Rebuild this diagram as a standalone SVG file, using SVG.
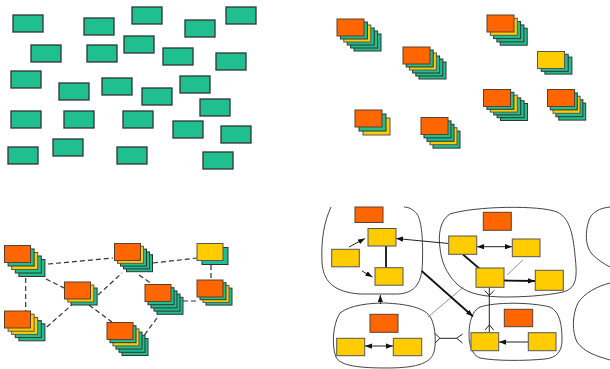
<svg xmlns="http://www.w3.org/2000/svg" width="610" height="369" viewBox="0 0 610 369">
<style>
.bg{fill:#fff}
.p1 rect{fill:#1fbf8f;stroke:#333;stroke-width:1.3}
.t{fill:#1fbf8f;stroke:#333;stroke-width:1}
.y{fill:#ffcc00;stroke:#555;stroke-width:1}
.o{fill:#ff6600;stroke:#5a4030;stroke-width:1}
.d{fill:none;stroke:#333;stroke-width:1.2;stroke-dasharray:5 3}
.blob{fill:none;stroke:#444;stroke-width:1}
.ln{fill:none;stroke:#222;stroke-width:1}
.thk{fill:none;stroke:#111;stroke-width:1.8}
.gry{fill:none;stroke:#777;stroke-width:0.8}
</style>
<defs>
<marker id="ah" viewBox="0 0 8 6" refX="8" refY="3" markerWidth="7" markerHeight="5.5" markerUnits="userSpaceOnUse" orient="auto-start-reverse"><path d="M0,0 L8,3 L0,6 Z" fill="#111"/></marker>
</defs>
<rect class="bg" width="610" height="369"/>

<!-- Panel 1: scattered teal nodes -->
<g class="p1">
<g id="n1"><rect x="13" y="15" width="30" height="17"/></g>
<g id="n2"><rect x="84" y="18" width="30" height="17"/></g>
<g id="n3"><rect x="132" y="7" width="30" height="17"/></g>
<g id="n4"><rect x="185" y="20" width="30" height="17"/></g>
<g id="n5"><rect x="226" y="7" width="30" height="17"/></g>
<g id="n6"><rect x="31" y="45" width="30" height="17"/></g>
<g id="n7"><rect x="87" y="45" width="30" height="17"/></g>
<g id="n8"><rect x="124" y="36" width="30" height="17"/></g>
<g id="n9"><rect x="163" y="48" width="30" height="17"/></g>
<g id="n10"><rect x="216" y="53" width="30" height="17"/></g>
<g id="n11"><rect x="11" y="71" width="30" height="17"/></g>
<g id="n12"><rect x="59" y="83" width="30" height="17"/></g>
<g id="n13"><rect x="102" y="78" width="30" height="17"/></g>
<g id="n14"><rect x="142" y="88" width="30" height="17"/></g>
<g id="n15"><rect x="180" y="76" width="30" height="17"/></g>
<g id="n16"><rect x="200" y="99" width="30" height="17"/></g>
<g id="n17"><rect x="11" y="111" width="30" height="17"/></g>
<g id="n18"><rect x="64" y="111" width="30" height="17"/></g>
<g id="n19"><rect x="123" y="111" width="30" height="17"/></g>
<g id="n20"><rect x="173" y="121" width="30" height="17"/></g>
<g id="n21"><rect x="221" y="126" width="30" height="17"/></g>
<g id="n22"><rect x="8" y="147" width="30" height="17"/></g>
<g id="n23"><rect x="53" y="139" width="30" height="17"/></g>
<g id="n24"><rect x="117" y="147" width="30" height="17"/></g>
<g id="n25"><rect x="203" y="152" width="30" height="17"/></g>
</g>

<!-- Panel 2: stacks -->
<g id="stackA">
<rect class="t" x="354" y="34" width="27" height="17"/><rect class="t" x="350.6" y="31" width="27" height="17"/><rect class="t" x="347.2" y="28" width="27" height="17"/><rect class="y" x="343.8" y="25" width="27" height="17"/><rect class="t" x="340.4" y="22" width="27" height="17"/><rect class="o" x="337" y="19" width="27" height="17"/>
</g>
<g id="stackB">
<rect class="t" x="419" y="62" width="27" height="17"/><rect class="t" x="415.8" y="59" width="27" height="17"/><rect class="t" x="412.6" y="56" width="27" height="17"/><rect class="y" x="409.4" y="53" width="27" height="17"/><rect class="t" x="406.2" y="50" width="27" height="17"/><rect class="o" x="403" y="47" width="27" height="17"/>
</g>
<g id="stackC">
<rect class="t" x="500.2" y="28.2" width="27" height="17"/><rect class="t" x="496.9" y="24.9" width="27" height="17"/><rect class="t" x="493.6" y="21.6" width="27" height="17"/><rect class="y" x="490.3" y="18.3" width="27" height="17"/><rect class="o" x="487" y="15" width="27" height="17"/>
</g>
<g id="stackD">
<rect class="t" x="544.9" y="57.1" width="27" height="17"/><rect class="t" x="541.2" y="54.3" width="27" height="17"/><rect class="y" x="537.5" y="51.5" width="27" height="17"/>
</g>
<g id="stackE">
<rect class="t" x="500.5" y="103.5" width="27" height="17"/><rect class="t" x="497.1" y="100.7" width="27" height="17"/><rect class="t" x="493.7" y="97.9" width="27" height="17"/><rect class="y" x="490.3" y="95.1" width="27" height="17"/><rect class="t" x="486.9" y="92.3" width="27" height="17"/><rect class="o" x="483.5" y="89.5" width="27" height="17"/>
</g>
<g id="stackF">
<rect class="t" x="558.7" y="103.1" width="27" height="17"/><rect class="t" x="555.9" y="99.7" width="27" height="17"/><rect class="y" x="553.1" y="96.3" width="27" height="17"/><rect class="t" x="550.3" y="92.9" width="27" height="17"/><rect class="o" x="547.5" y="89.5" width="27" height="17"/>
</g>
<g id="stackG">
<rect class="y" x="363" y="118" width="27" height="17"/><rect class="t" x="359" y="114" width="27" height="17"/><rect class="o" x="355" y="110" width="27" height="17"/>
</g>
<g id="stackH">
<rect class="t" x="433" y="131.1" width="27" height="17"/><rect class="y" x="430" y="127.7" width="27" height="17"/><rect class="t" x="427" y="124.3" width="27" height="17"/><rect class="t" x="424" y="120.9" width="27" height="17"/><rect class="o" x="421" y="117.5" width="27" height="17"/>
</g>

<!-- Panel 3: connectors -->
<g id="p3-connectors">
<line class="d" x1="48" y1="264" x2="113" y2="258"/>
<line class="d" x1="153" y1="263" x2="197" y2="258"/>
<line class="d" x1="25.7" y1="278" x2="25.7" y2="311"/>
<line class="d" x1="46" y1="279" x2="64" y2="288"/>
<line class="d" x1="46.7" y1="327" x2="71.7" y2="305"/>
<line class="d" x1="98" y1="295" x2="122" y2="273"/>
<line class="d" x1="89" y1="305" x2="112" y2="322"/>
<line class="d" x1="139" y1="275" x2="152" y2="284"/>
<line class="d" x1="157" y1="318" x2="143" y2="337"/>
<line class="d" x1="183" y1="301" x2="198" y2="301"/>
<line class="d" x1="211" y1="265" x2="211" y2="280"/>
</g>
<!-- Panel 3: stacks -->
<g id="S1">
<rect class="t" x="18.9" y="259.5" width="26" height="17"/><rect class="t" x="15.3" y="256" width="26" height="17"/><rect class="y" x="11.7" y="252.5" width="26" height="17"/><rect class="t" x="8.1" y="249" width="26" height="17"/><rect class="o" x="4.5" y="245.5" width="26" height="17"/>
</g>
<g id="S2">
<rect class="t" x="18.9" y="323.8" width="26" height="17"/><rect class="t" x="15.3" y="320.6" width="26" height="17"/><rect class="y" x="11.7" y="317.4" width="26" height="17"/><rect class="y" x="8.1" y="314.2" width="26" height="17"/><rect class="o" x="4.5" y="311" width="26" height="17"/>
</g>
<g id="S3">
<rect class="t" x="71.1" y="288" width="26" height="17"/><rect class="y" x="67.8" y="285" width="26" height="17"/><rect class="o" x="64.5" y="282" width="26" height="17"/>
</g>
<g id="S4">
<rect class="t" x="126.5" y="254.7" width="26" height="17"/><rect class="t" x="123.5" y="251.9" width="26" height="17"/><rect class="t" x="120.5" y="249.1" width="26" height="17"/><rect class="y" x="117.5" y="246.3" width="26" height="17"/><rect class="o" x="114.5" y="243.5" width="26" height="17"/>
</g>
<g id="S5">
<rect class="t" x="157" y="297.3" width="26" height="17"/><rect class="t" x="154" y="294.1" width="26" height="17"/><rect class="t" x="151" y="290.9" width="26" height="17"/><rect class="t" x="148" y="287.7" width="26" height="17"/><rect class="o" x="145" y="284.5" width="26" height="17"/>
</g>
<g id="S6">
<rect class="t" x="122" y="338.5" width="26" height="17"/><rect class="t" x="119" y="335.3" width="26" height="17"/><rect class="t" x="116" y="332.1" width="26" height="17"/><rect class="y" x="113" y="328.9" width="26" height="17"/><rect class="t" x="110" y="325.7" width="26" height="17"/><rect class="o" x="107" y="322.5" width="26" height="17"/>
</g>
<g id="S7">
<rect class="t" x="202" y="247.5" width="26" height="17"/><rect class="y" x="197" y="243.5" width="26" height="17"/>
</g>
<g id="S8">
<rect class="t" x="206" y="288.1" width="26" height="17"/><rect class="y" x="203" y="285.4" width="26" height="17"/><rect class="t" x="200" y="282.7" width="26" height="17"/><rect class="o" x="197" y="280" width="26" height="17"/>
</g>

<!-- Panel 4: blobs -->
<g id="blobs">
<path class="blob" d="M331,207 C324,222 321,240 322,262 C323,280 332,292 360,294 L398,294 C416,293 422,282 422.5,262 C423,240 422,222 417,214 C413,209 408,207 404,207"/>
<path class="blob" d="M450,214 C475,206 540,205 557,212 C570,218 573,235 575,255 C577,275 578,288 563,292 C545,296 520,297 505,297 C485,297 468,294 458,285 C446,274 441,260 440,248 C438,235 440,220 450,214 Z"/>
<path class="blob" d="M340,313 C350,305 370,303 385,303 C405,304 425,307 431,318 C436,328 436,345 434,352 C431,362 420,368 387,368 C360,368 340,366 336,357 C332,348 332,325 340,313 Z"/>
<path class="blob" d="M480,307 C495,302 530,302 550,307 C560,312 562,325 562,340 C562,352 556,358 545,359 C525,361 495,361 480,358 C472,355 469,345 469,335 C469,322 472,311 480,307 Z"/>
<path class="blob" d="M610,207 C600,208 592,212 589,220 C585,232 585,246 592,254 C598,260 604,264 610,267"/>
<path class="blob" d="M610,283 C598,286 584,293 578,303 C572,315 572,332 577,342 C584,352 596,356 610,360"/>
</g>

<!-- Panel 4: connectors -->
<g id="p4-connectors">
<line class="ln" x1="349" y1="247" x2="365" y2="238.5" marker-end="url(#ah)"/>
<line class="ln" x1="362" y1="271" x2="372.5" y2="277" marker-end="url(#ah)"/>
<line class="thk" x1="386" y1="245.7" x2="386" y2="267.7"/>
<line class="ln" x1="448.7" y1="243.5" x2="396" y2="238.5" marker-end="url(#ah)"/>
<line class="ln" x1="477" y1="246.7" x2="512" y2="246.7" stroke-width="1.5" marker-start="url(#ah)" marker-end="url(#ah)"/>
<line class="thk" x1="463" y1="254.5" x2="484" y2="272.5"/>
<line class="gry" x1="507" y1="275" x2="523" y2="260"/>
<line class="thk" x1="504" y1="280.5" x2="535" y2="281" marker-end="url(#ah)"/>
<path class="ln" d="M489.3,287.3 V332.7 M484.7,290.5 L489.3,295.5 L494,290.5 M485,330 L489.3,325 L493.7,330"/>
<line class="ln" x1="380.3" y1="304" x2="380.3" y2="295" marker-end="url(#ah)"/>
<line class="gry" x1="428" y1="317" x2="463.5" y2="287"/>
<line class="thk" x1="421.7" y1="271" x2="473" y2="316.5" stroke-width="1.5" marker-end="url(#ah)"/>
<path class="ln" d="M440,338.3 H456.7 M435,333.5 L440,338.3 L435,343 M462.5,334 L456.7,338.3 L462.5,343"/>
<line class="ln" x1="528.3" y1="342" x2="499" y2="342" marker-end="url(#ah)"/>
<line class="ln" x1="365" y1="346" x2="393" y2="346" stroke-width="1.5" marker-start="url(#ah)" marker-end="url(#ah)"/>
</g>

<!-- Panel 4: nodes -->
<g id="b1-head"><rect class="o" x="355" y="207" width="28" height="15.5"/></g>
<g id="b1-y1"><rect class="y" x="368" y="228.5" width="28" height="17.5"/></g>
<g id="b1-y2"><rect class="y" x="331.7" y="249.3" width="27.6" height="17.5"/></g>
<g id="b1-y3"><rect class="y" x="375" y="267.7" width="28" height="17.5"/></g>
<g id="b2-head"><rect class="o" x="483.3" y="212.3" width="28" height="18"/></g>
<g id="b2-y4"><rect class="y" x="448.7" y="236" width="28" height="18.3"/></g>
<g id="b2-y5"><rect class="y" x="512.3" y="239" width="27.7" height="17.7"/></g>
<g id="b2-y6"><rect class="y" x="476" y="268" width="28" height="19.3"/></g>
<g id="b2-y7"><rect class="y" x="535.3" y="270.3" width="28" height="20"/></g>
<g id="b3-head"><rect class="o" x="370" y="314.3" width="28" height="18"/></g>
<g id="b3-y9"><rect class="y" x="336.7" y="338.3" width="28" height="17.4"/></g>
<g id="b3-y10"><rect class="y" x="393.3" y="338.3" width="28.4" height="17.4"/></g>
<g id="b4-head"><rect class="o" x="504.3" y="309.3" width="28.4" height="17.4"/></g>
<g id="b4-y8"><rect class="y" x="471" y="332.7" width="27.7" height="18"/></g>
<g id="b4-y11"><rect class="y" x="528.3" y="332.7" width="27.7" height="18"/></g>
</svg>
